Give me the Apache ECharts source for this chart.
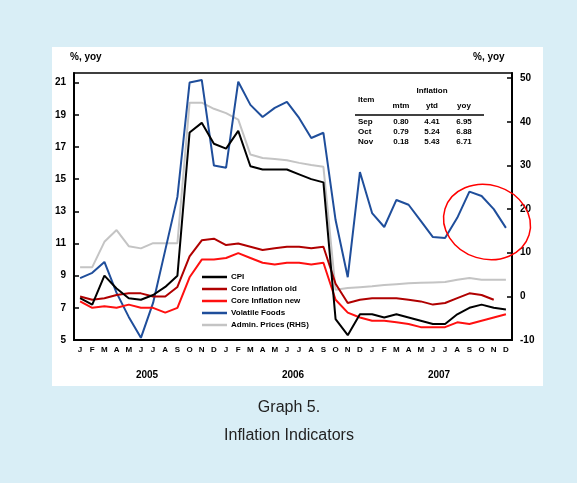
<!DOCTYPE html>
<html>
<head>
<meta charset="utf-8">
<script src="https://cdn.jsdelivr.net/npm/echarts@6/dist/echarts.min.js"></script>
<style>
  html, body { margin: 0; padding: 0; background: #d9eef6; }
  #chart { width: 577px; height: 483px; }
</style>
</head>
<body>
<div id="chart"></div>
<script>
// Monthly categories, Jan 2005 - Dec 2007
const months = [];
const monthLetters = ['J','F','M','A','M','J','J','A','S','O','N','D'];
const years = ['2005', '2006', '2007'];
years.forEach(y => monthLetters.forEach((m, i) => months.push(y + '-' + (i + 1))));

// Inflation, % yoy (left axis)
const cpi = [7.6, 7.2, 9.0, 8.2, 7.6, 7.5, 7.8, 8.3, 9.0, 17.9, 18.5, 17.2,
             16.9, 18.0, 15.8, 15.6, 15.6, 15.6, 15.3, 15.0, 14.8, 6.3, 5.3, 6.6,
             6.6, 6.4, 6.6, 6.4, 6.2, 6.0, 6.0, 6.6, 7.0, 7.2, 7.0, 6.9];
const coreOld = [7.7, 7.5, 7.6, 7.8, 7.9, 7.9, 7.7, 7.7, 8.3, 10.2, 11.2, 11.3,
                 10.9, 11.0, 10.8, 10.6, 10.7, 10.8, 10.8, 10.7, 10.8, 8.5, 7.3, 7.5,
                 7.6, 7.6, 7.6, 7.5, 7.4, 7.2, 7.3, 7.6, 7.9, 7.8, 7.5, null];
const coreNew = [7.4, 7.0, 7.1, 7.0, 7.2, 7.0, 7.0, 6.7, 7.0, 8.9, 10.0, 10.0,
                 10.1, 10.4, 10.1, 9.8, 9.7, 9.8, 9.8, 9.7, 9.8, 7.5, 6.7, 6.4,
                 6.2, 6.2, 6.1, 6.0, 5.8, 5.8, 5.8, 6.1, 6.0, 6.2, 6.4, 6.6];
// Inflation, % yoy (right axis)
const volatileFoods = [4.2, 5.4, 7.9, 0.8, -4.7, -9.5, -1.5, 10.6, 22.8, 49.0, 49.6, 30.0,
                       29.5, 49.2, 43.9, 41.1, 43.2, 44.6, 40.9, 36.3, 37.5, 17.5, 4.4, 28.5,
                       19.1, 15.9, 22.1, 21.0, 17.3, 13.6, 13.4, 18.0, 24.0, 23.0, 20.0, 15.7];
const adminPrices = [6.7, 6.7, 12.5, 15.2, 11.5, 11.0, 12.2, 12.2, 12.2, 44.4, 44.4, 43.0,
                     42.0, 40.5, 32.5, 31.7, 31.5, 31.2, 30.6, 30.1, 29.7, 1.5, 1.9, 2.1,
                     2.3, 2.6, 2.8, 3.0, 3.1, 3.2, 3.3, 3.8, 4.2, 3.8, 3.8, 3.8];

const seriesNames = ['CPI', 'Core Inflation old', 'Core Inflation new', 'Volatile Foods', 'Admin. Prices (RHS)'];
const seriesColors = ['#000000', '#b00000', '#ff1010', '#1f4e9b', '#c4c4c4'];

// Summary table text
const tableHead = ['Item', 'Inflation', 'mtm', 'ytd', 'yoy'];
const tableRows = [
  ['Sep', '0.80', '4.41', '6.95'],
  ['Oct', '0.79', '5.24', '6.88'],
  ['Nov', '0.18', '5.43', '6.71']
];

const chart = echarts.init(document.getElementById('chart'));

const baseFont = 'Liberation Sans, Arial, sans-serif';
const small = { fontFamily: baseFont, fontWeight: 'bold', fontSize: 8, fill: '#000' };

const tableGraphics = [];
const colX = [366, 401, 432, 464];
tableGraphics.push({ type: 'text', x: 358, y: 96, style: Object.assign({ text: tableHead[0] }, small) });
tableGraphics.push({ type: 'text', x: 432, y: 87, style: Object.assign({ text: tableHead[1], textAlign: 'center' }, small) });
[2, 3, 4].forEach((k, j) => {
  tableGraphics.push({ type: 'text', x: colX[j + 1], y: 102, style: Object.assign({ text: tableHead[k], textAlign: 'center' }, small) });
});
tableGraphics.push({ type: 'line', shape: { x1: 355, y1: 115, x2: 484, y2: 115 }, style: { stroke: '#000', lineWidth: 1.5 } });
tableRows.forEach((row, r) => {
  row.forEach((cell, c) => {
    tableGraphics.push({
      type: 'text', x: c === 0 ? 358 : colX[c], y: 118 + r * 10,
      style: Object.assign({ text: cell, textAlign: c === 0 ? 'left' : 'center' }, small)
    });
  });
});

const option = {
  backgroundColor: '#d9eef6',
  animation: false,
  textStyle: { fontFamily: baseFont },
  grid: { left: 74, right: 65, top: 73, bottom: 143, show: true, borderColor: '#000', borderWidth: 1.5, backgroundColor: 'transparent' },
  legend: {
    orient: 'vertical', left: 197, top: 268, itemGap: 4,
    itemWidth: 25, itemHeight: 2.5, icon: 'rect',
    data: seriesNames,
    textStyle: { fontFamily: baseFont, fontWeight: 'bold', fontSize: 8, color: '#000', padding: [0, 0, 0, -1] }
  },
  xAxis: [
    {
      type: 'category', data: months, boundaryGap: true,
      axisLine: { onZero: false, lineStyle: { color: '#000', width: 2 } },
      axisTick: { interval: 0, length: 4, lineStyle: { color: '#000', width: 1.5 } },
      axisLabel: { interval: 0, margin: 6, fontSize: 8, fontWeight: 'bold', color: '#000',
                   formatter: (v) => monthLetters[Number(v.split('-')[1]) - 1] }
    },
    {
      type: 'category', data: years, position: 'bottom', offset: 22, boundaryGap: true,
      axisLine: { show: false, onZero: false }, axisTick: { show: false },
      axisLabel: { fontSize: 10, fontWeight: 'bold', color: '#000' }
    }
  ],
  yAxis: [
    {
      type: 'value', min: 5, max: 21.6, interval: 2, position: 'left',
      axisLine: { show: true, onZero: false, lineStyle: { color: '#000', width: 2 } },
      axisTick: { show: true, inside: true, length: 5, lineStyle: { color: '#000', width: 1.5 } },
      axisLabel: { showMaxLabel: false, margin: 8, fontSize: 10, fontWeight: 'bold', color: '#000' },
      splitLine: { show: false }
    },
    {
      type: 'value', min: -10, max: 51.2, interval: 10, position: 'right',
      axisLine: { show: true, onZero: false, lineStyle: { color: '#000', width: 2 } },
      axisTick: { show: true, inside: true, length: 5, lineStyle: { color: '#000', width: 1.5 } },
      axisLabel: { showMaxLabel: false, margin: 8, fontSize: 10, fontWeight: 'bold', color: '#000' },
      splitLine: { show: false }
    }
  ],
  series: [
    { name: seriesNames[4], data: adminPrices, yAxisIndex: 1 },
    { name: seriesNames[3], data: volatileFoods, yAxisIndex: 1 },
    { name: seriesNames[1], data: coreOld, yAxisIndex: 0 },
    { name: seriesNames[2], data: coreNew, yAxisIndex: 0 },
    { name: seriesNames[0], data: cpi, yAxisIndex: 0 }
  ].map(s => Object.assign({
    type: 'line', showSymbol: false, symbol: 'none',
    color: seriesColors[seriesNames.indexOf(s.name)],
    lineStyle: { width: 2 }
  }, s)),
  graphic: [
    { type: 'rect', z: -10, shape: { x: 52, y: 47, width: 491, height: 339 }, style: { fill: '#ffffff' } },
    { type: 'text', x: 70, y: 52, style: { text: '%, yoy', fontFamily: baseFont, fontWeight: 'bold', fontSize: 10, fill: '#000' } },
    { type: 'text', x: 473, y: 52, style: { text: '%, yoy', fontFamily: baseFont, fontWeight: 'bold', fontSize: 10, fill: '#000' } },
    { type: 'ellipse', x: 487, y: 222, rotation: -0.3, shape: { cx: 0, cy: 0, rx: 44, ry: 37 },
      style: { fill: 'none', stroke: '#ff0000', lineWidth: 1.5 }, z: 100 },
    { type: 'text', x: 289, y: 400, style: { text: 'Graph 5.', textAlign: 'center', fontFamily: baseFont, fontSize: 16, fill: '#222' } },
    { type: 'text', x: 289, y: 428, style: { text: 'Inflation Indicators', textAlign: 'center', fontFamily: baseFont, fontSize: 16, fill: '#222' } }
  ].concat(tableGraphics)
};

chart.setOption(option);
</script>
</body>
</html>
